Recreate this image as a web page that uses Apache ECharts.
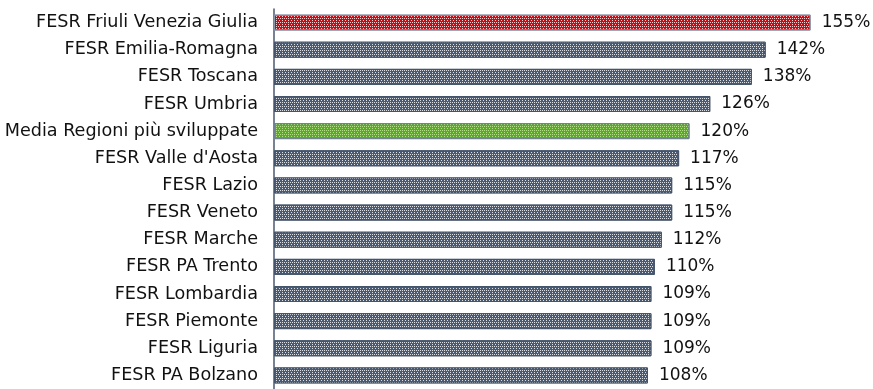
<!DOCTYPE html>
<html>
<head>
<meta charset="utf-8">
<script src="https://cdn.jsdelivr.net/npm/echarts@6/dist/echarts.min.js"></script>
<style>
  html, body { margin: 0; padding: 0; background: #fff; }
  #chart { width: 873px; height: 389px; }
</style>
</head>
<body>
<div id="chart"></div>
<script>
var categories = [
    'FESR Friuli Venezia Giulia',
    'FESR Emilia-Romagna',
    'FESR Toscana',
    'FESR Umbria',
    'Media Regioni più sviluppate',
    "FESR Valle d'Aosta",
    'FESR Lazio',
    'FESR Veneto',
    'FESR Marche',
    'FESR PA Trento',
    'FESR Lombardia',
    'FESR Piemonte',
    'FESR Liguria',
    'FESR PA Bolzano'
];
var values = [155, 142, 138, 126, 120, 117, 115, 115, 112, 110, 109, 109, 109, 108];

var myChart = echarts.init(document.getElementById('chart'));

// dotted fill like the original pattern
var dots = {
    symbol: 'rect',
    symbolSize: 1,
    dashArrayX: [[1, 1], [1, 2]],
    dashArrayY: [1, 1],
    color: 'rgba(255,255,255,0.8)'
};
var greenDots = {
    symbol: 'rect',
    symbolSize: 1,
    dashArrayX: [[1, 1], [1, 2]],
    dashArrayY: [1, 1],
    color: 'rgba(200,235,160,0.8)'
};

function barColor(name) {
    if (name === 'FESR Friuli Venezia Giulia') return { fill: '#d00812', border: '#8a96aa', decal: dots };
    if (name === 'Media Regioni più sviluppate') return { fill: '#5aaa28', border: '#6f7f96', decal: greenDots };
    return { fill: '#4a5a72', border: '#44546a', decal: dots };
}

var option = {
    animation: false,
    grid: {
        left: 274,
        right: 45,
        top: 9,
        height: 384
    },
    xAxis: {
        type: 'value',
        min: 0,
        max: 160,
        show: false
    },
    yAxis: {
        type: 'category',
        inverse: true,
        data: categories,
        axisTick: { show: false },
        axisLine: { show: true, lineStyle: { color: '#4a5a72', width: 1.5 } },
        axisLabel: {
            margin: 16,
            color: '#111',
            fontFamily: 'DejaVu Sans',
            fontSize: 17.6
        }
    },
    series: [
        {
            type: 'bar',
            barWidth: 16,
            data: values.map(function (v, i) {
                var c = barColor(categories[i]);
                return {
                    value: v,
                    itemStyle: {
                        color: c.fill,
                        borderColor: c.border,
                        borderWidth: 1,
                        decal: c.decal
                    }
                };
            }),
            label: {
                show: true,
                position: 'right',
                distance: 11,
                color: '#111',
                fontFamily: 'DejaVu Sans',
                fontSize: 17,
                formatter: '{c}%'
            }
        }
    ]
};

myChart.setOption(option);
</script>
</body>
</html>
